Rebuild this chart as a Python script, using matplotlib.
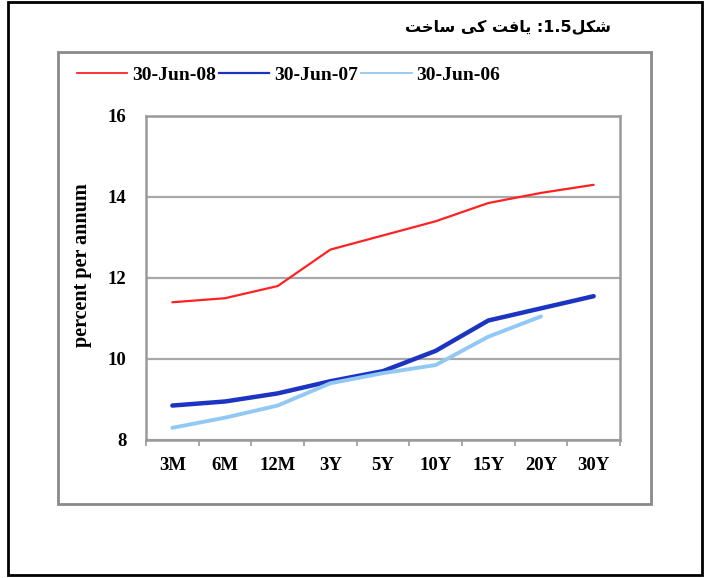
import matplotlib.pyplot as plt
from matplotlib.lines import Line2D
from matplotlib.patches import Rectangle

# tenors and yields (percent per annum)
tenors = ['3M', '6M', '12M', '3Y', '5Y', '10Y', '15Y', '20Y', '30Y']
jun08 = [11.4, 11.5, 11.8, 12.7, 13.05, 13.4, 13.85, 14.1, 14.3]
jun07 = [8.85, 8.95, 9.15, 9.45, 9.7, 10.2, 10.95, 11.25, 11.55]
jun06 = [8.3, 8.55, 8.85, 9.4, 9.65, 9.85, 10.55, 11.05]
series_names = ['30-Jun-08', '30-Jun-07', '30-Jun-06']

# Urdu title, shaped by hand into presentation forms (visual order)
title = '\uFE96\uFEA7\uFE8E\uFEB3 \uFBFD\uFB90 \uFE96\uFED3\uFE8E\uFBFE :1.5\uFEDE\uFB91\uFEB7'

red = '#ff2222'
dark_blue = '#1c34c2'
light_blue = '#92c8f4'
serif = ['Liberation Serif', 'DejaVu Serif']

fig = plt.figure(figsize=(7.04, 5.78), dpi=100)

# outer frame and the grey box round the chart
fig.patches.append(Rectangle((0.0114, 0.005), 0.9856, 0.9915, transform=fig.transFigure,
                             fill=False, edgecolor='black', linewidth=2))
fig.patches.append(Rectangle((0.0824, 0.128), 0.842, 0.782, transform=fig.transFigure,
                             fill=False, edgecolor='#8a8a8a', linewidth=2))

fig.text(0.868, 0.952, title, ha='right', va='center', fontsize=11.5, fontweight='bold',
         family=['DejaVu Sans'])

ax = fig.add_axes([0.2074, 0.2388, 0.6733, 0.5606])

x = list(range(len(tenors)))
ax.plot(x, jun08, color=red, linewidth=1.6, solid_capstyle='round')
ax.plot(x, jun07, color=dark_blue, linewidth=3.2, solid_capstyle='round')
ax.plot(x[:len(jun06)], jun06, color=light_blue, linewidth=2.8, solid_capstyle='round')

ax.set_xlim(-0.5, len(tenors) - 0.5)
ax.set_ylim(8, 16)
ax.set_yticks([8, 10, 12, 14, 16])
ax.set_xticks(x)
ax.set_xticklabels(tenors)
ax.set_xticks([i - 0.5 for i in range(len(tenors) + 1)], minor=True)

for lbl in ax.get_xticklabels() + ax.get_yticklabels():
    lbl.set_family(serif)
    lbl.set_fontweight('bold')
    lbl.set_fontsize(13.5)

ax.tick_params(axis='x', which='major', length=0, pad=12)
ax.tick_params(axis='x', which='minor', length=4, color='#999999', width=1.2)
ax.tick_params(axis='y', length=0, pad=14)

ax.grid(axis='y', color='#a8a8a8', linewidth=1.6)
ax.set_axisbelow(True)
for s in ax.spines.values():
    s.set_color('#9a9a9a')
    s.set_linewidth(1.8)

ax.set_ylabel('percent per annum', family=serif, fontweight='bold', fontsize=14.5)
ax.yaxis.set_label_coords(-0.113, 0.54)

handles = [Line2D([], [], color=red, linewidth=1.3),
           Line2D([], [], color=dark_blue, linewidth=1.6),
           Line2D([], [], color=light_blue, linewidth=1.3)]
fig.legend(handles, series_names, loc='center left', bbox_to_anchor=(0.084, 0.870),
           ncol=3, frameon=False, handlelength=2.6, handletextpad=0.25, columnspacing=0.15,
           prop={'family': serif, 'weight': 'bold', 'size': 14})

fig.savefig('out.png', dpi=100)
